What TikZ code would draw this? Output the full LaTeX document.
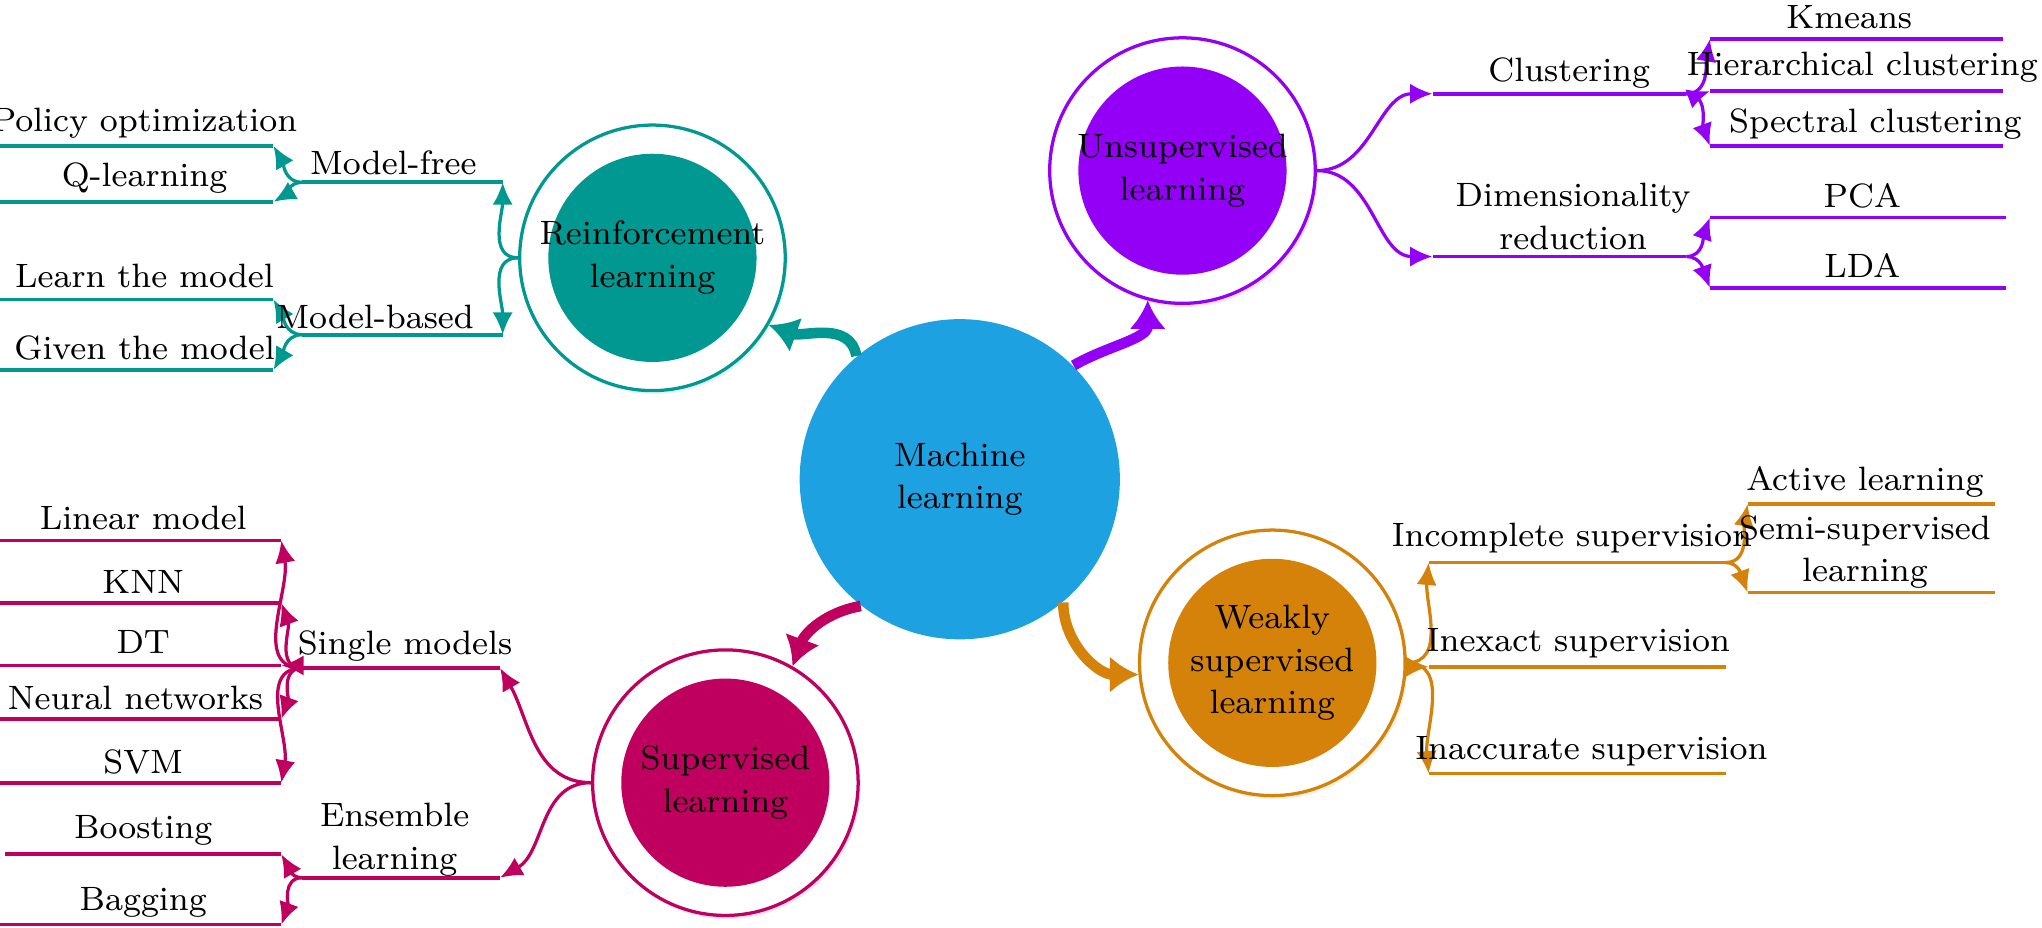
\documentclass[tikz,border=0pt]{standalone}
\usetikzlibrary{arrows.meta,shadows}
\definecolor{cteal}{HTML}{009891}
\definecolor{cpurp}{HTML}{9400F5}
\definecolor{corange}{HTML}{D4820A}
\definecolor{cmag}{HTML}{C0005F}
\definecolor{cblue}{HTML}{1DA1E0}
\begin{document}
\begin{tikzpicture}[x=0.01124cm,y=-0.01124cm,font=\fontsize{8.3}{10.5}\selectfont,
  outer/.style={circle,draw=#1,line width=0.8pt,fill=white,minimum size=2.293cm,drop shadow={shadow xshift=0.6pt,shadow yshift=-0.9pt,fill=#1!10,opacity=1}},
  innerc/.style={circle,fill=#1,minimum size=1.798cm,inner sep=0pt},
  br/.style={draw=#1,line width=0.8pt,-{Latex[length=5.5pt,width=5pt]}},
  ln/.style={draw=#1,line width=0.9pt},
  big/.style={draw=#1,line width=2.6pt,-{Latex[length=7pt,width=9pt]}},
  lab/.style={inner sep=1pt,align=center}]
\useasboundingbox (0,0) rectangle (1568,712);

% central
\node[circle,fill=cblue,minimum size=2.765cm,inner sep=0pt] (ml) at (737,368) {};
\node[lab] (mlt) at (ml.center) {Machine\\learning};

% ---------- Reinforcement ----------
\node[outer=cteal] (rlo) at (501,198) {};
\node[innerc=cteal] (rl) at (501,198) {};
\node[lab] (rlt) at (rl.center) {Reinforcement\\learning};
\coordinate (mfR) at (386,140); \coordinate (mfL) at (232,140);
\coordinate (mbR) at (386,257); \coordinate (mbL) at (232,257);
\coordinate (poR) at (210,112); \coordinate (poL) at (0,112);
\coordinate (qlR) at (210,155); \coordinate (qlL) at (0,155);
\coordinate (ltR) at (210,230); \coordinate (ltL) at (0,230);
\coordinate (gtR) at (210,284); \coordinate (gtL) at (0,284);
\draw[br=cteal] (rlo.west) to[out=180,in=-90] (mfR);
\draw[br=cteal] (rlo.west) to[out=180,in=90] (mbR);
\draw[ln=cteal] (mfR) -- (mfL) (mbR) -- (mbL) (poR) -- (poL) (qlR) -- (qlL) (ltR) -- (ltL) (gtR) -- (gtL);
\draw[br=cteal] (mfL) to[out=180,in=-60] (poR);
\draw[br=cteal] (mfL) to[out=180,in=30] (qlR);
\draw[br=cteal] (mbL) to[out=180,in=-60] (ltR);
\draw[br=cteal] (mbL) to[out=180,in=60] (gtR);
\node[lab] (mf) at (302,125) {Model-free};
\node[lab] (mb) at (288,243) {Model-based};
\node[lab] (po) at (111,95) {Policy optimization};
\node[lab] (ql) at (111,137) {Q-learning};
\node[lab] (lt) at (111,212) {Learn the model};
\node[lab] (gt) at (111,267) {Given the model};

% ---------- Unsupervised ----------
\node[outer=cpurp] (ulo) at (908,131) {};
\node[innerc=cpurp] (ul) at (908,131) {};
\node[lab] (ult) at (ul.center) {Unsupervised\\learning};
\coordinate (clL) at (1100,72); \coordinate (clR) at (1295,72);
\coordinate (drL) at (1100,197); \coordinate (drR) at (1295,197);
\coordinate (kmL) at (1313,30); \coordinate (kmR) at (1538,30);
\coordinate (hcL) at (1313,70); \coordinate (hcR) at (1538,70);
\coordinate (scL) at (1313,112); \coordinate (scR) at (1538,112);
\coordinate (pcL) at (1313,167); \coordinate (pcR) at (1540,167);
\coordinate (ldL) at (1313,221); \coordinate (ldR) at (1540,221);
\draw[br=cpurp] (ulo.east) to[out=0,in=180] (clL);
\draw[br=cpurp] (ulo.east) to[out=0,in=180] (drL);
\draw[ln=cpurp] (clL) -- (clR) (drL) -- (drR) (kmL) -- (kmR) (hcL) -- (hcR) (scL) -- (scR) (pcL) -- (pcR) (ldL) -- (ldR);
\draw[br=cpurp] (clR) to[out=0,in=-100] (kmL);
\draw[br=cpurp] (clR) to[out=0,in=200] (hcL);
\draw[br=cpurp] (clR) to[out=0,in=110] (scL);
\draw[br=cpurp] (drR) to[out=0,in=-110] (pcL);
\draw[br=cpurp] (drR) to[out=0,in=110] (ldL);
\node[lab] (cl) at (1205,56) {Clustering};
\node[lab] (dr) at (1208,166) {Dimensionality\\reduction};
\node[lab] (km) at (1420,13) {Kmeans};
\node[lab] (hc) at (1430,52) {Hierarchical clustering};
\node[lab] (sc) at (1440,95) {Spectral clustering};
\node[lab] (pc) at (1430,150) {PCA};
\node[lab] (ld) at (1430,204) {LDA};

% ---------- Weakly ----------
\node[outer=corange] (wlo) at (977,509) {};
\node[innerc=corange] (wl) at (977,509) {};
\node[lab] (wlt) at (wl.center) {Weakly\\supervised\\learning};
\coordinate (icL) at (1097,432); \coordinate (icR) at (1325,432);
\coordinate (ieL) at (1097,512); \coordinate (ieR) at (1325,512);
\coordinate (iaL) at (1097,594); \coordinate (iaR) at (1325,594);
\coordinate (alL) at (1342,387); \coordinate (alR) at (1532,387);
\coordinate (ssL) at (1342,455); \coordinate (ssR) at (1532,455);
\draw[br=corange] (wlo.east) to[out=0,in=-95] (icL);
\draw[br=corange] (wlo.east) to[out=0,in=180] (ieL);
\draw[br=corange] (wlo.east) to[out=0,in=95] (iaL);
\draw[ln=corange] (icL) -- (icR) (ieL) -- (ieR) (iaL) -- (iaR) (alL) -- (alR) (ssL) -- (ssR);
\draw[br=corange] (icR) to[out=0,in=-100] (alL);
\draw[br=corange] (icR) to[out=0,in=110] (ssL);
\node[lab] (ic) at (1207,413) {Incomplete supervision};
\node[lab] (ie) at (1212,494) {Inexact supervision};
\node[lab] (ia) at (1222,577) {Inaccurate supervision};
\node[lab] (al) at (1432,370) {Active learning};
\node[lab] (ss) at (1432,424) {Semi-supervised\\learning};

% ---------- Supervised ----------
\node[outer=cmag] (slo) at (557,601) {};
\node[innerc=cmag] (sl) at (557,601) {};
\node[lab] (slt) at (sl.center) {Supervised\\learning};
\coordinate (smR) at (384,513); \coordinate (smL) at (232,513);
\coordinate (elR) at (384,674); \coordinate (elL) at (232,674);
\coordinate (lmR) at (216,415); \coordinate (lmL) at (0,415);
\coordinate (knR) at (216,463); \coordinate (knL) at (0,463);
\coordinate (dtR) at (216,511); \coordinate (dtL) at (0,511);
\coordinate (nnR) at (216,552); \coordinate (nnL) at (0,552);
\coordinate (svR) at (216,601); \coordinate (svL) at (0,601);
\coordinate (boR) at (216,656); \coordinate (boL) at (4,656);
\coordinate (baR) at (216,710); \coordinate (baL) at (0,710);
\draw[br=cmag] (slo.west) to[out=180,in=-60] (smR);
\draw[br=cmag] (slo.west) to[out=180,in=30] (elR);
\draw[ln=cmag] (smR) -- (smL) (elR) -- (elL) (lmR) -- (lmL) (knR) -- (knL) (dtR) -- (dtL) (nnR) -- (nnL) (svR) -- (svL) (boR) -- (boL) (baR) -- (baL);
\draw[br=cmag] (smL) to[out=180,in=-80] (lmR);
\draw[br=cmag] (smL) to[out=180,in=-70] (knR);
\draw[br=cmag] (smL) to[out=180,in=0] (dtR);
\draw[br=cmag] (smL) to[out=180,in=70] (nnR);
\draw[br=cmag] (smL) to[out=180,in=80] (svR);
\draw[br=cmag] (elL) to[out=180,in=-60] (boR);
\draw[br=cmag] (elL) to[out=180,in=70] (baR);
\node[lab] (sm) at (311,496) {Single models};
\node[lab] (el) at (303,645) {Ensemble\\learning};
\node[lab] (lm) at (110,398) {Linear model};
\node[lab] (kn) at (110,447) {KNN};
\node[lab] (dt) at (110,493) {DT};
\node[lab] (nn) at (104,536) {Neural networks};
\node[lab] (sv) at (110,585) {SVM};
\node[lab] (bo) at (110,638) {Boosting};
\node[lab] (ba) at (110,693) {Bagging};

% ---------- main arrows ----------
\draw[big=cteal] (ml.130) to[out=100,in=-20] (rlo.-30);
\draw[big=cpurp] (ml.45) to[out=30,in=-90] (ulo.-105);
\draw[big=corange] (ml.-50) to[out=-90,in=180] (wlo.185);
\draw[big=cmag] (ml.-128) to[out=190,in=70] (slo.60);
\end{tikzpicture}
\end{document}
